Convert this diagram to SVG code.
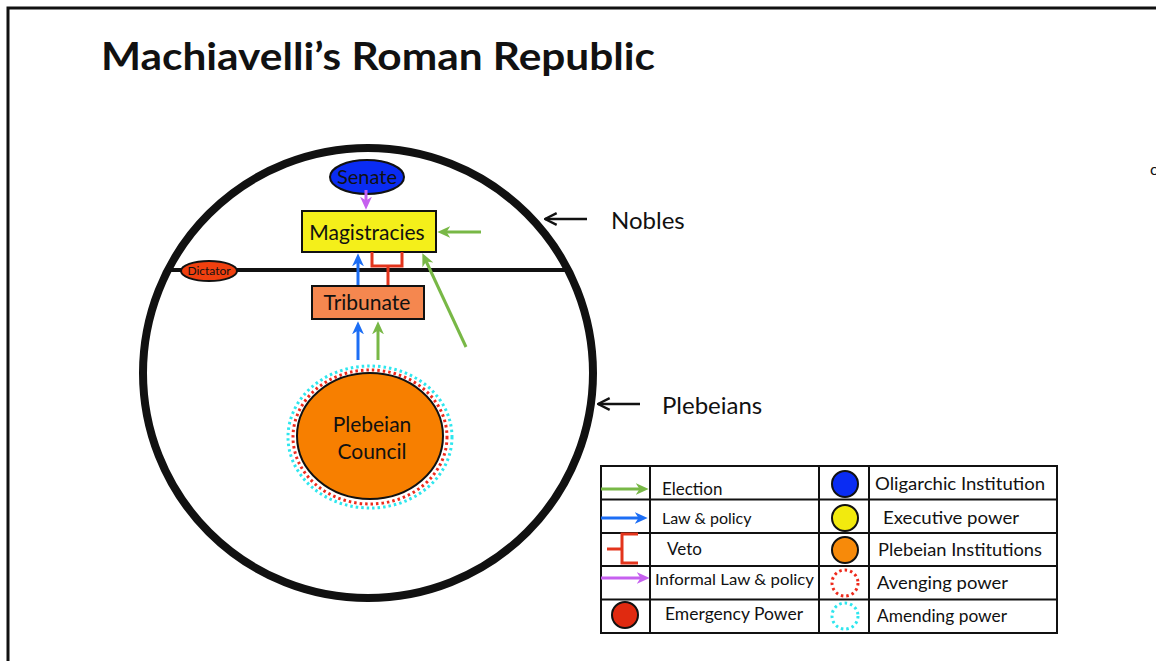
<svg xmlns="http://www.w3.org/2000/svg" width="1156" height="661" viewBox="0 0 1156 661">
  <style>
    text { font-family: Lato, "Open Sans", "Liberation Sans", sans-serif; fill: #111; }
    .title { font-size: 38px; font-weight: bold; }
    .lbl { font-size: 24px; }
    .node-text { font-size: 20px; text-anchor: middle; }
    .leg { font-size: 17px; }
    .box { stroke: #111; stroke-width: 2; }
    .elec { stroke: #78b846; stroke-width: 3; fill: none; }
    .law { stroke: #1c6ef5; stroke-width: 3; fill: none; }
    .inf { stroke: #c660ef; stroke-width: 3; fill: none; }
    .veto { stroke: #e3341c; stroke-width: 3; fill: none; }
    .ptr { stroke: #111; stroke-width: 2.5; fill: none; }
    .avenge { stroke: #ee2a1c; stroke-width: 3; stroke-dasharray: 2.5 3; fill: none; }
    .amend { stroke: #2ee6ee; stroke-width: 3; stroke-dasharray: 2.5 3; fill: none; }
    .grid { stroke: #111; stroke-width: 2; fill: none; }
  </style>
  <defs>
    <marker id="ah-green" viewBox="0 0 12 12" refX="4" refY="6" markerWidth="13" markerHeight="13" markerUnits="userSpaceOnUse" orient="auto">
      <path d="M0,0.5 L12,6 L0,11.5 L3.5,6 z" fill="#78b846"/>
    </marker>
    <marker id="ah-blue" viewBox="0 0 12 12" refX="4" refY="6" markerWidth="13" markerHeight="13" markerUnits="userSpaceOnUse" orient="auto">
      <path d="M0,0.5 L12,6 L0,11.5 L3.5,6 z" fill="#1c6ef5"/>
    </marker>
    <marker id="ah-purple" viewBox="0 0 12 12" refX="4" refY="6" markerWidth="13" markerHeight="13" markerUnits="userSpaceOnUse" orient="auto">
      <path d="M0,0.5 L12,6 L0,11.5 L3.5,6 z" fill="#c660ef"/>
    </marker>
    <marker id="ah-black" viewBox="0 0 12 12" refX="11" refY="6" markerWidth="14" markerHeight="14" markerUnits="userSpaceOnUse" orient="auto">
      <path d="M1,1 L11,6 L1,11" fill="none" stroke="#111" stroke-width="2"/>
    </marker>
  </defs>

  <rect width="1156" height="661" fill="#fff"/>

  <!-- slide frame -->
  <path d="M8,661 V8 H1156" fill="none" stroke="#111" stroke-width="3"/>
  <text x="1150" y="175" style="font-size:16px">c</text>

  <text class="title" x="101" y="70" textLength="554" lengthAdjust="spacingAndGlyphs">Machiavelli’s Roman Republic</text>

  <!-- the republic as a whole, split into nobles (top) and plebeians (bottom) -->
  <g id="republic">
    <circle cx="368" cy="373" r="225" fill="none" stroke="#111" stroke-width="8"/>
    <line x1="168" y1="270" x2="568" y2="270" stroke="#111" stroke-width="4"/>
  </g>

  <g id="nobles-label">
    <line class="ptr" x1="587" y1="219" x2="545" y2="219" marker-end="url(#ah-black)"/>
    <text class="lbl" x="611" y="229">Nobles</text>
  </g>
  <g id="plebeians-label">
    <line class="ptr" x1="640" y1="404" x2="598" y2="404" marker-end="url(#ah-black)"/>
    <text class="lbl" x="662" y="414">Plebeians</text>
  </g>

  <g id="senate">
    <ellipse cx="367" cy="177" rx="37" ry="17" fill="#0a2cf3" class="box"/>
    <text class="node-text" x="367" y="184" style="font-size:20px">Senate</text>
  </g>

  <g id="magistracies">
    <rect x="302" y="211" width="134" height="41" fill="#f4ef1a" class="box"/>
    <text class="node-text" x="367" y="240" style="font-size:21px">Magistracies</text>
  </g>

  <g id="dictator">
    <ellipse cx="209" cy="271" rx="28" ry="10" fill="#f0400f" class="box"/>
    <text x="209" y="275" text-anchor="middle" style="font-size:12px">Dictator</text>
  </g>

  <g id="tribunate">
    <rect x="312" y="286" width="112" height="33" fill="#f5874f" class="box"/>
    <text class="node-text" x="367" y="310" style="font-size:21px">Tribunate</text>
  </g>

  <g id="plebeian-council">
    <ellipse cx="370" cy="437" rx="82" ry="71" class="amend"/>
    <ellipse cx="370" cy="437" rx="77" ry="67" class="avenge"/>
    <ellipse cx="370" cy="436" rx="73" ry="63" fill="#f77f00" class="box"/>
    <text class="node-text" x="372" y="432" style="font-size:21px">Plebeian</text>
    <text class="node-text" x="372" y="459" style="font-size:21px">Council</text>
  </g>

  <!-- connectors -->
  <g id="connectors">
    <line class="inf" x1="366" y1="190" x2="366" y2="201" marker-end="url(#ah-purple)"/>
    <line class="law" x1="358" y1="285" x2="358" y2="262" marker-end="url(#ah-blue)"/>
    <line class="law" x1="358" y1="360" x2="358" y2="330" marker-end="url(#ah-blue)"/>
    <line class="elec" x1="378" y1="360" x2="378" y2="330" marker-end="url(#ah-green)"/>
    <line class="elec" x1="481" y1="232" x2="446" y2="232" marker-end="url(#ah-green)"/>
    <line class="elec" x1="466" y1="347" x2="426" y2="261" marker-end="url(#ah-green)"/>
    <!-- veto bracket from tribunate to magistracies -->
    <path class="veto" d="M372,252 V266 H402 V252 M388,266 V285"/>
  </g>

  <!-- key -->
  <g id="legend">
    <rect class="grid" x="601" y="466" width="456" height="167"/>
    <path class="grid" d="M650,466 V633 M819,466 V633 M869,466 V633 M601,499.5 H1057 M601,533 H1057 M601,566 H1057 M601,599.5 H1057"/>

    <line class="elec" x1="601" y1="489" x2="640" y2="489" marker-end="url(#ah-green)"/>
    <text class="leg" x="662" y="495">Election</text>

    <line class="law" x1="601" y1="518" x2="639" y2="518" marker-end="url(#ah-blue)"/>
    <text class="leg" x="662" y="524" style="font-size:16px">Law &amp; policy</text>

    <path class="veto" d="M607,549 H622 M638,534 H622 V563 H638"/>
    <text class="leg" x="667" y="555">Veto</text>

    <line class="inf" x1="601" y1="578" x2="641" y2="578" marker-end="url(#ah-purple)"/>
    <text class="leg" x="655" y="585" style="font-size:16px" textLength="159" lengthAdjust="spacingAndGlyphs">Informal Law &amp; policy</text>

    <circle cx="625" cy="615" r="13" fill="#e02a10" class="box"/>
    <text class="leg" x="665" y="620" textLength="138" lengthAdjust="spacingAndGlyphs">Emergency Power</text>

    <circle cx="845" cy="484" r="13" fill="#0a2cf3" class="box"/>
    <text class="leg" x="875" y="490" textLength="170" lengthAdjust="spacingAndGlyphs">Oligarchic Institution</text>

    <circle cx="845" cy="518" r="13" fill="#f2ea0e" class="box"/>
    <text class="leg" x="883" y="524" textLength="136" lengthAdjust="spacingAndGlyphs">Executive power</text>

    <circle cx="845" cy="550" r="13" fill="#f78a0a" class="box"/>
    <text class="leg" x="878" y="556" textLength="164" lengthAdjust="spacingAndGlyphs">Plebeian Institutions</text>

    <circle cx="845" cy="583" r="13" class="avenge"/>
    <text class="leg" x="877" y="589" textLength="131" lengthAdjust="spacingAndGlyphs">Avenging power</text>

    <circle cx="845" cy="616" r="13" class="amend"/>
    <text class="leg" x="877" y="622" textLength="130" lengthAdjust="spacingAndGlyphs">Amending power</text>
  </g>
</svg>
